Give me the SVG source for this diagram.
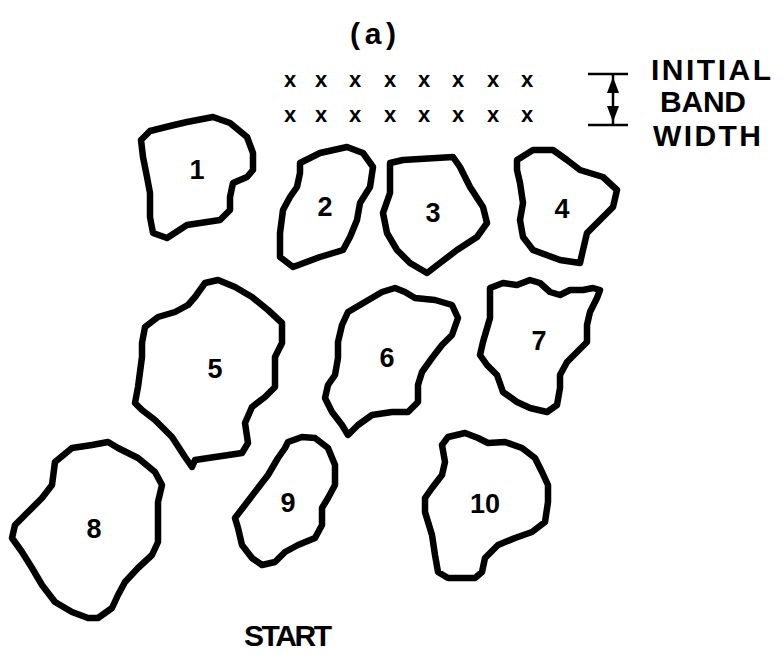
<svg xmlns="http://www.w3.org/2000/svg" width="783" height="655" viewBox="0 0 783 655">
<style>
.blob{fill:#fff;stroke:#000;stroke-width:6.5;stroke-linejoin:round}
.num{font-family:"Liberation Sans",Arial,sans-serif;font-weight:bold;font-size:27px;text-anchor:middle;fill:#000}
.lbl{font-family:"Liberation Sans",Arial,sans-serif;font-weight:bold;font-size:30px;text-anchor:middle;fill:#000}
.xm{font-family:"Liberation Sans",Arial,sans-serif;font-weight:bold;font-size:22px;text-anchor:middle;fill:#000}
.ln{stroke:#000;stroke-width:2.5;fill:none}
</style>
<rect width="783" height="655" fill="#fff"/>
<text class="lbl" x="373" y="44" font-size="34" textLength="46" lengthAdjust="spacing">(a)</text>
<g id="band">
<text class="xm" x="290" y="87">x</text><text class="xm" x="321" y="87">x</text><text class="xm" x="355" y="87">x</text><text class="xm" x="390" y="87">x</text><text class="xm" x="424" y="87">x</text><text class="xm" x="458" y="87">x</text><text class="xm" x="493" y="87">x</text><text class="xm" x="527" y="87">x</text>
<text class="xm" x="290" y="122">x</text><text class="xm" x="321" y="122">x</text><text class="xm" x="355" y="122">x</text><text class="xm" x="390" y="122">x</text><text class="xm" x="424" y="122">x</text><text class="xm" x="458" y="122">x</text><text class="xm" x="493" y="122">x</text><text class="xm" x="527" y="122">x</text>
</g>
<g id="band-marker">
<line class="ln" x1="588" y1="74" x2="628" y2="74"/>
<line class="ln" x1="588" y1="125" x2="628" y2="125"/>
<line class="ln" x1="613" y1="74" x2="613" y2="125"/>
<polygon points="613,77 607,93 619,93" fill="#000"/>
<polygon points="613,122 607,106 619,106" fill="#000"/>
<text class="lbl" x="711" y="80" textLength="120" lengthAdjust="spacing">INITIAL</text>
<text class="lbl" x="703" y="112" textLength="86" lengthAdjust="spacing">BAND</text>
<text class="lbl" x="707" y="146" textLength="108" lengthAdjust="spacing">WIDTH</text>
</g>
<g id="connectors"></g>
<g id="node1"><polygon class="blob" points="141,140 150,131 170,126 187,122 213,117 230,123 247,137 253,153 253,170 247,177 233,183 230,197 230,210 220,220 187,225 167,238 153,233 150,217 150,193 147,177 143,157"/><text class="num" x="197" y="179">1</text></g>
<g id="node2"><polygon class="blob" points="300,163 320,153 347,147 363,153 373,167 370,187 360,203 357,220 350,237 343,250 320,257 293,267 280,257 280,233 283,210 290,197 297,187 300,173"/><text class="num" x="325" y="216">2</text></g>
<g id="node3"><polygon class="blob" points="390,163 403,160 453,157 460,167 470,187 483,207 487,223 477,237 457,250 440,263 427,273 410,263 397,250 387,233 383,213 390,193 390,177"/><text class="num" x="433" y="222">3</text></g>
<g id="node4"><polygon class="blob" points="517,160 533,150 553,150 567,160 580,170 603,177 617,190 613,207 600,220 587,233 583,250 580,263 560,260 533,250 523,237 520,220 523,203 520,183 517,170"/><text class="num" x="562" y="218">4</text></g>
<g id="node5"><polygon class="blob" points="145,327 158,317 175,312 188,305 195,297 205,283 218,280 235,287 252,297 268,310 282,323 282,343 275,357 275,373 275,387 265,397 252,407 245,423 248,443 242,453 215,457 195,460 192,467 185,457 172,437 155,420 142,410 135,403 138,387 142,357 142,343"/><text class="num" x="215" y="378">5</text></g>
<g id="node6"><polygon class="blob" points="348,312 365,302 382,292 395,288 405,292 415,298 435,300 452,305 458,318 452,335 442,345 432,358 422,372 418,385 418,402 408,412 392,412 372,415 358,425 348,435 342,425 332,412 325,398 328,385 335,375 338,358 338,342 342,325"/><text class="num" x="387" y="367">6</text></g>
<g id="node7"><polygon class="blob" points="490,288 503,283 517,285 530,280 540,283 550,292 560,295 570,290 583,290 593,288 600,290 597,298 590,312 587,325 587,342 577,352 567,362 560,375 560,388 557,405 547,412 530,408 517,402 503,392 497,375 487,365 480,355 483,342 490,318 490,302"/><text class="num" x="539" y="350">7</text></g>
<g id="node8"><polygon class="blob" points="55,462 72,448 92,445 108,442 118,448 138,458 155,472 162,485 158,502 158,525 158,542 152,555 138,568 125,582 118,595 112,608 98,618 88,618 72,612 55,602 42,585 32,568 22,552 12,538 15,525 28,512 42,498 52,485"/><text class="num" x="94" y="538">8</text></g>
<g id="node9"><polygon class="blob" points="288,442 302,437 315,438 328,448 335,465 335,485 328,498 322,508 322,525 315,538 298,545 285,552 275,562 262,565 252,558 242,545 238,528 235,518 245,505 258,488 268,475 278,458 285,448"/><text class="num" x="288" y="512">9</text></g>
<g id="node10"><polygon class="blob" points="442,445 448,437 465,433 478,438 488,443 505,442 522,448 535,458 542,472 548,485 548,502 545,522 532,532 515,538 498,545 485,558 482,572 475,578 448,578 438,572 435,555 432,535 425,512 425,498 432,488 442,475 445,462"/><text class="num" x="485" y="513">10</text></g>
<text class="lbl" x="288" y="646" textLength="88" lengthAdjust="spacing">START</text>
</svg>
